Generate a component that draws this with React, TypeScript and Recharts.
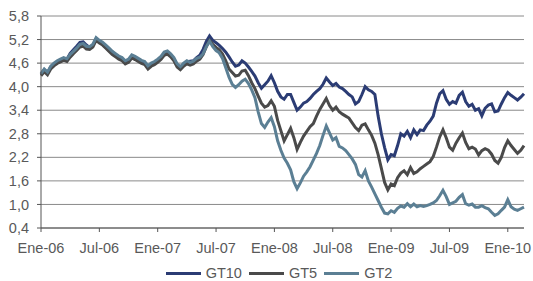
import { LineChart, Line, XAxis, YAxis, CartesianGrid, Legend } from 'recharts';

// one value every ~10 days, from Ene-06 to mid Feb-10
const gt10 = [
  4.32, 4.43, 4.36, 4.50, 4.57, 4.63, 4.68, 4.72, 4.70, 4.85, 4.94, 5.03, 5.13, 5.14, 5.06, 5.00, 5.05, 5.22,
  5.14, 5.08, 5.00, 4.92, 4.85, 4.79, 4.72, 4.68, 4.61, 4.64, 4.76, 4.72, 4.67, 4.62, 4.59, 4.49, 4.56, 4.60,
  4.66, 4.73, 4.84, 4.87, 4.80, 4.70, 4.55, 4.48, 4.57, 4.63, 4.65, 4.66, 4.74, 4.80, 4.95, 5.15, 5.29, 5.18,
  5.12, 5.05, 4.97, 4.88, 4.76, 4.63, 4.52, 4.55, 4.66, 4.60, 4.50, 4.39, 4.27, 4.10, 3.96, 4.05, 4.14, 4.28,
  4.10, 3.88, 3.74, 3.68, 3.80, 3.80, 3.60, 3.40, 3.48, 3.58, 3.62, 3.70, 3.80, 3.88, 3.95, 4.06, 4.22, 4.12,
  4.03, 4.08, 3.99, 3.95, 3.88, 3.80, 3.74, 3.56, 3.62, 3.80, 4.00, 3.92, 3.88, 3.80, 3.25, 2.80, 2.45, 2.14,
  2.27, 2.24, 2.50, 2.80, 2.74, 2.86, 2.70, 2.90, 2.78, 2.90, 2.88, 3.02, 3.12, 3.25, 3.58, 3.82, 3.90, 3.68,
  3.55, 3.62, 3.58, 3.78, 3.86, 3.62, 3.50, 3.55, 3.40, 3.44, 3.26, 3.45, 3.53, 3.56, 3.36, 3.38, 3.56, 3.72,
  3.85, 3.78, 3.72, 3.66, 3.73, 3.82,
];

const gt5 = [
  4.28, 4.38, 4.30, 4.45, 4.53, 4.59, 4.63, 4.67, 4.64, 4.75, 4.84, 4.92, 5.01, 5.03, 4.96, 4.95, 5.01, 5.18,
  5.11, 5.06, 4.98, 4.90, 4.82, 4.76, 4.70, 4.66, 4.58, 4.62, 4.73, 4.69, 4.64, 4.59, 4.56, 4.45, 4.52, 4.56,
  4.62, 4.69, 4.80, 4.83, 4.76, 4.66, 4.50, 4.43, 4.52, 4.58, 4.55, 4.58, 4.65, 4.70, 4.82, 5.02, 5.18, 5.08,
  5.00, 4.94, 4.83, 4.66, 4.45, 4.36, 4.27, 4.29, 4.40, 4.42, 4.28, 4.10, 3.95, 3.76, 3.58, 3.48, 3.52, 3.64,
  3.50, 3.14, 2.88, 2.62, 2.78, 2.94, 2.70, 2.40, 2.58, 2.74, 2.86, 2.98, 3.06, 3.25, 3.42, 3.56, 3.70, 3.52,
  3.40, 3.48, 3.36, 3.30, 3.25, 3.20, 3.08, 2.96, 2.88, 3.02, 3.05, 2.90, 2.76, 2.56, 2.27, 1.92, 1.56, 1.37,
  1.52, 1.48, 1.68, 1.80, 1.86, 1.76, 1.94, 1.79, 1.83, 1.91, 1.97, 2.03, 2.09, 2.22, 2.46, 2.72, 2.90, 2.70,
  2.46, 2.38, 2.56, 2.70, 2.82, 2.58, 2.42, 2.46, 2.41, 2.26, 2.37, 2.42, 2.38, 2.28, 2.12, 2.05, 2.20, 2.45,
  2.62, 2.50, 2.40, 2.30, 2.38, 2.50,
];

const gt2 = [
  4.33, 4.45, 4.37, 4.52, 4.60, 4.66, 4.70, 4.74, 4.71, 4.82, 4.90, 4.98, 5.08, 5.10, 5.03, 5.02, 5.08, 5.25,
  5.18, 5.13, 5.06, 4.98, 4.90, 4.84, 4.78, 4.74, 4.66, 4.70, 4.81, 4.77, 4.72, 4.67, 4.64, 4.53, 4.60, 4.64,
  4.70, 4.77, 4.88, 4.91, 4.84, 4.74, 4.58, 4.51, 4.60, 4.66, 4.62, 4.65, 4.72, 4.75, 4.84, 5.02, 5.16, 5.02,
  4.92, 4.86, 4.72, 4.48, 4.24, 4.06, 3.98, 4.05, 4.14, 4.19, 4.08, 3.92, 3.72, 3.36, 3.06, 2.96, 3.10, 3.21,
  2.98, 2.62, 2.38, 2.18, 2.05, 1.88, 1.58, 1.40, 1.55, 1.72, 1.83, 1.96, 2.13, 2.30, 2.50, 2.76, 3.00, 2.82,
  2.64, 2.70, 2.48, 2.44, 2.37, 2.27, 2.16, 2.02, 1.76, 1.70, 1.86, 1.60, 1.44, 1.27, 1.10, 0.93, 0.78, 0.76,
  0.84, 0.80, 0.90, 0.96, 0.93, 1.02, 0.94, 1.01, 0.94, 0.97, 0.95, 0.97, 1.00, 1.04, 1.10, 1.22, 1.36, 1.20,
  1.00, 1.04, 1.08, 1.18, 1.25, 1.02, 0.98, 1.01, 0.93, 0.93, 0.97, 0.92, 0.89, 0.80, 0.72, 0.76, 0.85, 0.93,
  1.12, 0.94, 0.88, 0.85, 0.89, 0.93,
];

const xTickLabels = ['Ene-06', 'Jul-06', 'Ene-07', 'Jul-07', 'Ene-08', 'Jul-08', 'Ene-09', 'Jul-09', 'Ene-10'];
const yTicks = [0.4, 1.0, 1.6, 2.2, 2.8, 3.4, 4.0, 4.6, 5.2, 5.8];

const series = [
  { key: 'gt10', name: 'GT10', color: '#2b3c74' },
  { key: 'gt5', name: 'GT5', color: '#4a4a4a' },
  { key: 'gt2', name: 'GT2', color: '#5b7f94' },
];

const data = gt10.map((v, i) => ({ i, gt10: v, gt5: gt5[i], gt2: gt2[i] }));

const font = 'Liberation Sans, Arial, sans-serif';
const textColor = '#595959';

function LegendRow() {
  return (
    <div
      style={{
        display: 'flex',
        justifyContent: 'center',
        alignItems: 'center',
        fontFamily: font,
        fontSize: 14.5,
        lineHeight: '14px',
        color: textColor,
      }}
    >
      {series.map((s) => (
        <div key={s.key} style={{ display: 'flex', alignItems: 'center', marginRight: 7 }}>
          <span style={{ width: 35, height: 3, background: s.color, marginRight: 5, display: 'inline-block' }} />
          <span>{s.name}</span>
        </div>
      ))}
    </div>
  );
}

export default function App() {
  return (
    <div style={{ position: 'absolute', left: 0, top: 0, width: 533, height: 281, background: '#fff' }}>
      <LineChart width={533} height={281} data={data} margin={{ top: 16, right: 9, bottom: 0, left: 0 }}>
        <CartesianGrid vertical={false} stroke="#8a8a8a" />
        <XAxis
          dataKey="i"
          type="number"
          domain={[0, 149]}
          ticks={[0, 18, 36, 54, 72, 90, 108, 126, 144]}
          interval={0}
          tickFormatter={(v) => xTickLabels[v / 18]}
          stroke="#555"
          tickSize={4}
          tickMargin={11}
          tick={{ fill: textColor, fontSize: 14.5, fontFamily: font }}
          height={53}
        />
        <YAxis
          domain={[0.4, 5.8]}
          ticks={yTicks}
          interval={0}
          tickFormatter={(v) => v.toFixed(1).replace('.', ',')}
          stroke="#555"
          tickSize={4}
          tickMargin={8}
          width={41}
          tick={{ fill: textColor, fontSize: 14.5, fontFamily: font }}
        />
        <Legend
          verticalAlign="middle"
          wrapperStyle={{ top: 266, left: 41, width: 483 }}
          content={() => <LegendRow />}
        />
        {series.map((s) => (
          <Line
            key={s.key}
            type="linear"
            dataKey={s.key}
            name={s.name}
            stroke={s.color}
            strokeWidth={3}
            dot={false}
            isAnimationActive={false}
          />
        ))}
      </LineChart>
    </div>
  );
}
